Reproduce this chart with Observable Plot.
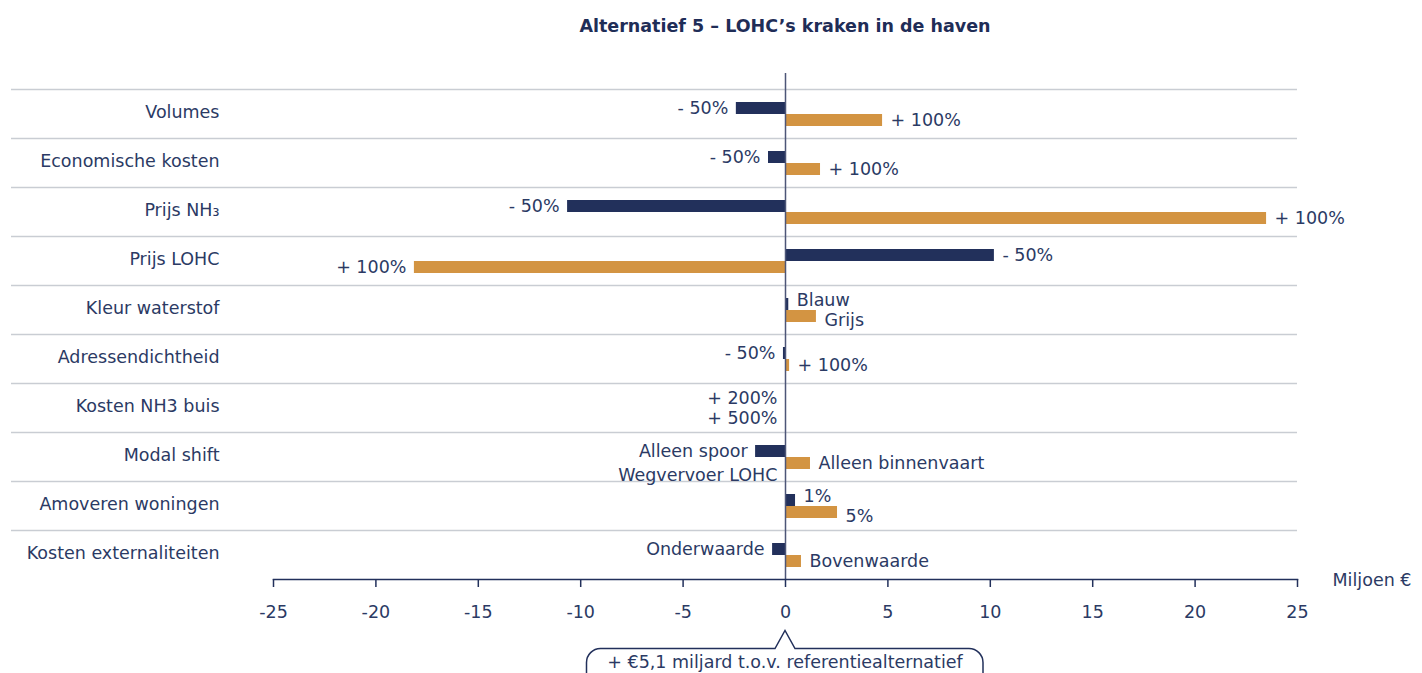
<!DOCTYPE html>
<html>
<head>
<meta charset="utf-8">
<script src="https://cdn.jsdelivr.net/npm/d3@7"></script>
<script src="https://cdn.jsdelivr.net/npm/@observablehq/plot@0.6"></script>
<style>
  html, body { margin: 0; padding: 0; background: #fff; }
  body { width: 1422px; height: 673px; overflow: hidden; font-family: "DejaVu Sans", sans-serif; color: #2b3a64; }
  #title { position: relative; height: 50px; }
  #title span { position: absolute; left: 785px; top: 16px; transform: translateX(-50%); font-weight: 700; font-size: 17.5px; color: #1f2d57; white-space: nowrap; }
  #chart { height: 575px; }
  #caption { position: relative; height: 48px; }
  #caption svg { position: absolute; left: 0; top: 0; }
</style>
</head>
<body>
<div id="title"><span></span></div>
<div id="chart"></div>
<div id="caption"></div>
<script>
// ---- data ----
const categories = ["Volumes", "Economische kosten", "Prijs NH3", "Prijs LOHC", "Kleur waterstof",
  "Adressendichtheid", "Kosten NH3 buis", "Modal shift", "Amoveren woningen", "Kosten externaliteiten"];
const lowValues  = [-2.4, -0.83, -10.64, 10.2, 0.16, -0.1, 0, -1.46, 0.49, -0.63];
const highValues = [4.74, 1.71, 23.49, -18.12, 1.51, 0.2, 0, 1.22, 2.54, 0.78];
const lowLabels  = ["- 50%", "- 50%", "- 50%", "- 50%", "Blauw", "- 50%", "+ 200%", "Alleen spoor", "1%", "Onderwaarde"];
const highLabels = ["+ 100%", "+ 100%", "+ 100%", "+ 100%", "Grijs", "+ 100%", "+ 500%", "Alleen binnenvaart", "5%", "Bovenwaarde"];
const extraLabels = [{category: "Modal shift", value: 0, text: "Wegvervoer LOHC"}];
const xTicks = [-25, -20, -15, -10, -5, 0, 5, 10, 15, 20, 25];
const unitLabel = "Miljoen €";
const titleText = "Alternatief 5 – LOHC’s kraken in de haven";
const calloutText = "+ €5,1 miljard t.o.v. referentiealternatief";

// ---- style ----
const navy = "#22305b";
const orange = "#d39442";
const textColor = "#2b3a64";
const gridColor = "#c9cdd3";
const W = 1422, H = 575;
const mL = 273, mR = 125, mT = 39, mB = 46;
const rowH = (H - mT - mB) / categories.length;
const fs = 17.5;
const font = "'DejaVu Sans', sans-serif";

// label rows; when both labels of a row sit on the same side, spread them a little
const sameSide = categories.map((c, i) => (lowValues[i] > 0) === (highValues[i] > 0));
const lowRows = categories.map((c, i) => ({category: c, value: lowValues[i], text: lowLabels[i], spread: sameSide[i] ? -4 : 0}));
const highRows = categories.map((c, i) => ({category: c, value: highValues[i], text: highLabels[i], spread: sameSide[i] ? 4 : 0}));

function labelMarks(rows, dy) {
  const marks = [];
  for (const s of [-4, 0, 4]) {
    const r = rows.filter(d => d.spread === s);
    marks.push(
      Plot.text(r.filter(d => d.value > 0), {x: "value", y: "category", text: "text", textAnchor: "start", dx: 8, dy: dy + s, fill: textColor, fontSize: fs}),
      Plot.text(r.filter(d => d.value <= 0), {x: "value", y: "category", text: "text", textAnchor: "end", dx: -8, dy: dy + s, fill: textColor, fontSize: fs})
    );
  }
  return marks;
}

const chart = Plot.plot({
  width: W, height: H,
  marginLeft: mL, marginRight: mR, marginTop: mT, marginBottom: mB,
  style: {fontFamily: font, color: textColor, background: "#fff"},
  x: {domain: [-25, 25]},
  y: {type: "band", domain: categories, padding: 0},
  marks: [
    Plot.ruleY(categories, {y: d => d, dy: -rowH / 2, insetLeft: -(mL - 11), stroke: gridColor, strokeWidth: 1.5}),
    Plot.barX(lowRows, {x1: 0, x2: "value", y: "category", fill: navy, insetTop: 13, insetBottom: rowH - 25}),
    Plot.barX(highRows, {x1: 0, x2: "value", y: "category", fill: orange, insetTop: 25, insetBottom: rowH - 37}),
    Plot.ruleX([0], {stroke: "#4d5677", strokeWidth: 1.5, insetTop: -16}),
    ...labelMarks(lowRows, -5.5),
    ...labelMarks(highRows, 6.5),
    Plot.text(extraLabels, {x: "value", y: "category", text: "text", textAnchor: "end", dx: -8, dy: 18, fill: textColor, fontSize: fs}),
    Plot.frame({anchor: "bottom", stroke: navy, strokeWidth: 1.5}),
    Plot.axisX(xTicks, {anchor: "bottom", tickSize: 8, tickPadding: 18, strokeWidth: 1.5, stroke: navy, fill: textColor, fontSize: fs, tickFormat: d => String(d), label: null}),
    Plot.axisY({tickSize: 0, tickPadding: 54, dy: -1.5, fill: textColor, fontSize: fs, tickFormat: d => d === "Prijs NH3" ? "Prijs NH₃" : d, label: null}),
    Plot.text([unitLabel], {frameAnchor: "bottom-right", dx: 35, dy: 6, textAnchor: "start", fill: textColor, fontSize: fs})
  ]
});
document.getElementById("chart").appendChild(chart);
document.querySelector("#title span").textContent = titleText;

// callout caption below the chart
const ns = "http://www.w3.org/2000/svg";
const cap = document.createElementNS(ns, "svg");
cap.setAttribute("width", W); cap.setAttribute("height", 48);
const path = document.createElementNS(ns, "path");
path.setAttribute("d", "M586.5,60 V37.5 A14,14 0 0 1 600.5,23.5 H775 L785,5.5 L795,23.5 H969 A14,14 0 0 1 983,37.5 V60");
path.setAttribute("fill", "none"); path.setAttribute("stroke", navy); path.setAttribute("stroke-width", "1.5");
cap.appendChild(path);
const t = document.createElementNS(ns, "text");
t.setAttribute("x", 785); t.setAttribute("y", 43); t.setAttribute("text-anchor", "middle");
t.setAttribute("font-size", fs); t.setAttribute("fill", textColor); t.setAttribute("font-family", font);
t.textContent = calloutText;
cap.appendChild(t);
document.getElementById("caption").appendChild(cap);
</script>
</body>
</html>
